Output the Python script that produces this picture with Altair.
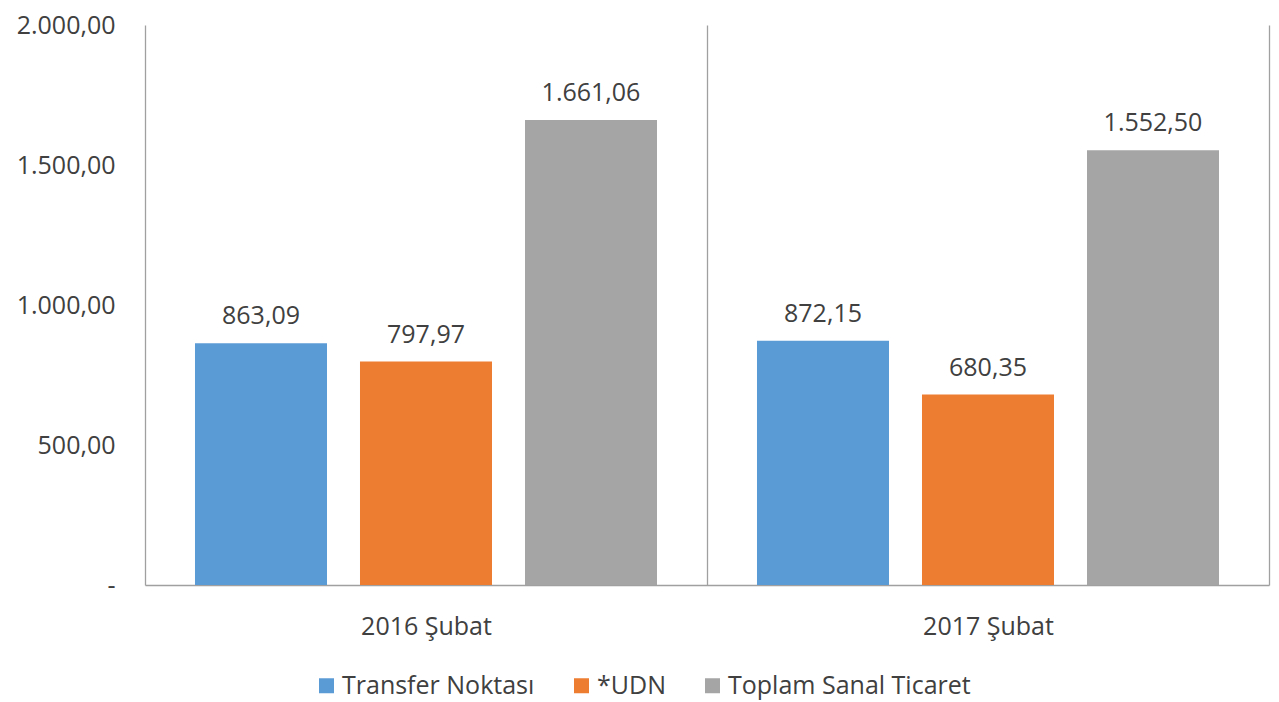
import altair as alt
import pandas as pd

periods = ["2016 Şubat", "2017 Şubat"]
series = ["Transfer Noktası", "*UDN", "Toplam Sanal Ticaret"]
transfer = [863.09, 872.15]
udn = [797.97, 680.35]
toplam = [1661.06, 1552.50]
colors = ["#5B9BD5", "#ED7D31", "#A5A5A5"]
y_ticks = [0, 500, 1000, 1500, 2000]

rows = []
for i, p in enumerate(periods):
    for s, vals in zip(series, [transfer, udn, toplam]):
        rows.append({"period": p, "series": s, "value": vals[i]})
df = pd.DataFrame(rows)

FONT = "Open Sans"
FS = 25
TXT = "#404040"
LINE = "#A0A0A0"

tr_fmt = "replace(replace(replace(format({v}, ',.2f'), ',', '_'), '.', ','), '_', '.')"

x = alt.X("period:N", sort=periods, title=None,
          scale=alt.Scale(paddingInner=0, paddingOuter=0),
          axis=alt.Axis(labelAngle=0, ticks=False, grid=True, tickBand="extent",
                        gridColor=LINE, gridWidth=1.3, domainColor=LINE, domainWidth=1.3,
                        labelFont=FONT, labelFontSize=FS, labelColor=TXT, labelPadding=29))
xo = alt.XOffset("series:N", sort=series,
                 scale=alt.Scale(paddingInner=0.2, paddingOuter=0.303))
y = alt.Y("value:Q", title=None,
          scale=alt.Scale(domain=[0, 2000], nice=False),
          axis=alt.Axis(values=y_ticks, grid=False, domain=False, ticks=False,
                        labelFont=FONT, labelFontSize=FS, labelColor=TXT, labelPadding=30,
                        labelExpr="datum.value == 0 ? '-' : " + tr_fmt.format(v="datum.value")))

base = alt.Chart(df).transform_calculate(label=tr_fmt.format(v="datum.value"))

bars = base.mark_bar().encode(
    x=x, xOffset=xo, y=y,
    color=alt.Color("series:N", sort=series,
                    scale=alt.Scale(domain=series, range=colors),
                    legend=alt.Legend(title=None, orient="none", direction="horizontal",
                                      legendX=169, legendY=648, symbolType="square",
                                      symbolSize=225, symbolStrokeWidth=0, labelOffset=3,
                                      columnPadding=34, labelFont=FONT, labelFontSize=FS,
                                      labelColor=TXT, labelLimit=0)),
)

labels = base.mark_text(baseline="alphabetic", dy=-19, font=FONT, fontSize=FS, color=TXT).encode(
    x=x, xOffset=xo, y=y, text="label:N"
)

chart = alt.layer(bars, labels).properties(
    width=1124, height=560,
    autosize=alt.AutoSizeParams(type="none"),
    padding={"left": 137, "top": 17, "right": 2, "bottom": 116},
).configure_view(stroke=None)

chart.save("out.html", embed_options={"renderer": "svg", "actions": False})
